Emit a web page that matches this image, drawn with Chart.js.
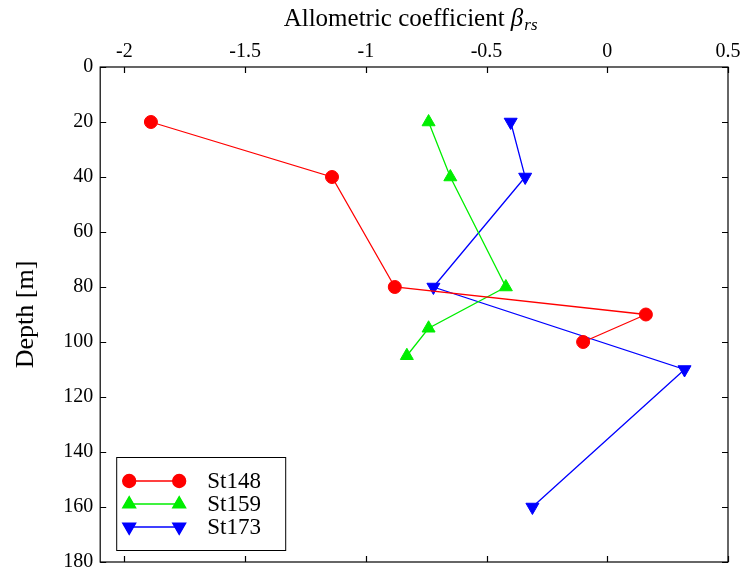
<!DOCTYPE html>
<html lang="en">
<head>
<meta charset="UTF-8">
<title>Allometric coefficient vs depth</title>
<style>
  html, body { margin: 0; padding: 0; background: #fff; }
  #wrap { width: 744px; height: 574px; }
</style>
<script src="https://cdn.jsdelivr.net/npm/chart.js@4"></script>
</head>
<body>
<div id="wrap"><canvas id="chart" width="744" height="574"></canvas></div>
<script>
// axis ticks
const betaTicks = [-2, -1.5, -1, -0.5, 0, 0.5];
const depthTicks = [0, 20, 40, 60, 80, 100, 120, 140, 160, 180];

// stations: allometric coefficient by depth
const st148Beta = [-1.89, -1.14, -0.88, 0.16, -0.10];
const st148Depth = [20, 40, 80, 90, 100];
const st159Beta = [-0.74, -0.65, -0.42, -0.74, -0.83];
const st159Depth = [20, 40, 80, 95, 105];
const st173Beta = [-0.40, -0.34, -0.72, 0.32, -0.31];
const st173Depth = [20, 40, 80, 110, 160];

const FONT = "'Liberation Serif', 'DejaVu Serif', serif";

function pts(xs, ys) {
  return xs.map((x, i) => ({ x: x, y: ys[i] }));
}

function series(label, xs, ys, color, style, rot, r) {
  return {
    label: label,
    data: pts(xs, ys),
    showLine: true,
    borderColor: color,
    backgroundColor: color,
    borderWidth: 1.3,
    pointStyle: style,
    pointRotation: rot,
    pointRadius: r,
    pointHoverRadius: r,
    pointBorderWidth: 1
  };
}

// box with inward ticks on all four sides
const frame = {
  id: 'frame',
  afterDatasetsDraw(chart) {
    const { ctx, chartArea: a, scales } = chart;
    ctx.save();
    ctx.strokeStyle = '#000';
    ctx.lineWidth = 1.2;
    ctx.strokeRect(a.left, a.top, a.right - a.left, a.bottom - a.top);
    const len = 6;
    ctx.beginPath();
    betaTicks.forEach(v => {
      const x = Math.round(scales.x.getPixelForValue(v)) + 0.5;
      ctx.moveTo(x, a.top); ctx.lineTo(x, a.top + len);
      ctx.moveTo(x, a.bottom); ctx.lineTo(x, a.bottom - len);
    });
    depthTicks.forEach(v => {
      const y = Math.round(scales.y.getPixelForValue(v)) + 0.5;
      ctx.moveTo(a.left, y); ctx.lineTo(a.left + len, y);
      ctx.moveTo(a.right, y); ctx.lineTo(a.right - len, y);
    });
    ctx.stroke();
    ctx.restore();
  }
};

// top axis title with italic beta and subscript
const topTitle = {
  id: 'topTitle',
  afterDraw(chart) {
    const { ctx, chartArea: a } = chart;
    ctx.save();
    ctx.fillStyle = '#000';
    ctx.textBaseline = 'alphabetic';
    const main = '25px ' + FONT, ital = 'italic 25px ' + FONT, sub = 'italic 17px ' + FONT;
    const t1 = 'Allometric coefficient ', t2 = 'β', t3 = 'rs';
    ctx.font = main; const w1 = ctx.measureText(t1).width;
    ctx.font = ital; const w2 = ctx.measureText(t2).width;
    ctx.font = sub; const w3 = ctx.measureText(t3).width;
    let x = (a.left + a.right) / 2 - (w1 + w2 + w3) / 2 - 4;
    const base = 26;
    ctx.font = main; ctx.fillText(t1, x, base); x += w1;
    ctx.font = ital; ctx.fillText(t2, x, base); x += w2 + 1;
    ctx.font = sub; ctx.fillText(t3, x, base + 4);
    ctx.restore();
  }
};

// legend box in the lower left corner
const legendBox = {
  id: 'legendBox',
  afterDatasetsDraw(chart) {
    const { ctx, chartArea: a } = chart;
    const bx = a.left + 16, by = a.bottom - 105, bw = 169, bh = 93;
    ctx.save();
    ctx.fillStyle = '#fff';
    ctx.fillRect(bx, by, bw, bh);
    ctx.strokeStyle = '#000';
    ctx.lineWidth = 1;
    ctx.strokeRect(bx + 0.5, by + 0.5, bw, bh);
    chart.data.datasets.forEach((ds, i) => {
      const y = by + 24 + i * 23;
      const x0 = bx + 13, x1 = bx + 63;
      ctx.strokeStyle = ds.borderColor;
      ctx.lineWidth = ds.borderWidth;
      ctx.beginPath(); ctx.moveTo(x0, y); ctx.lineTo(x1, y); ctx.stroke();
      ctx.fillStyle = ds.backgroundColor;
      [x0, x1].forEach(px => {
        Chart.helpers.drawPoint(ctx, {
          pointStyle: ds.pointStyle, rotation: ds.pointRotation,
          radius: ds.pointRadius, borderWidth: 1
        }, px, y);
        ctx.fill();
      });
      ctx.fillStyle = '#000';
      ctx.font = '23px ' + FONT;
      ctx.textBaseline = 'middle';
      ctx.fillText(ds.label, bx + 91, y + 1);
    });
    ctx.restore();
  }
};

new Chart(document.getElementById('chart'), {
  type: 'scatter',
  data: {
    datasets: [
      series('St148', st148Beta, st148Depth, '#ff0000', 'circle', 0, 6.5),
      series('St159', st159Beta, st159Depth, '#00ee00', 'triangle', 0, 7.5),
      series('St173', st173Beta, st173Depth, '#0000ff', 'triangle', 180, 7.5)
    ]
  },
  options: {
    responsive: false,
    animation: false,
    layout: { padding: { top: 37, right: 16, bottom: 12, left: 3 } },
    plugins: { legend: { display: false }, tooltip: { enabled: false } },
    scales: {
      x: {
        position: 'top',
        min: -2.1,
        max: 0.5,
        afterBuildTicks: s => { s.ticks = betaTicks.map(v => ({ value: v })); },
        grid: { display: false, drawTicks: false },
        border: { display: false },
        ticks: {
          color: '#000',
          font: { family: FONT, size: 20 },
          padding: 3,
          maxRotation: 0,
          callback: v => String(v)
        }
      },
      y: {
        reverse: true,
        min: 0,
        max: 180,
        afterBuildTicks: s => { s.ticks = depthTicks.map(v => ({ value: v })); },
        afterFit: s => { s.paddingTop = 0; s.paddingBottom = 0; },
        grid: { display: false, drawTicks: false },
        border: { display: false },
        title: {
          display: true,
          text: 'Depth [m]',
          color: '#000',
          font: { family: FONT, size: 26 },
          padding: { top: 8, bottom: 14 }
        },
        ticks: {
          color: '#000',
          font: { family: FONT, size: 20 },
          padding: 7
        }
      }
    }
  },
  plugins: [frame, topTitle, legendBox]
});
</script>
</body>
</html>
